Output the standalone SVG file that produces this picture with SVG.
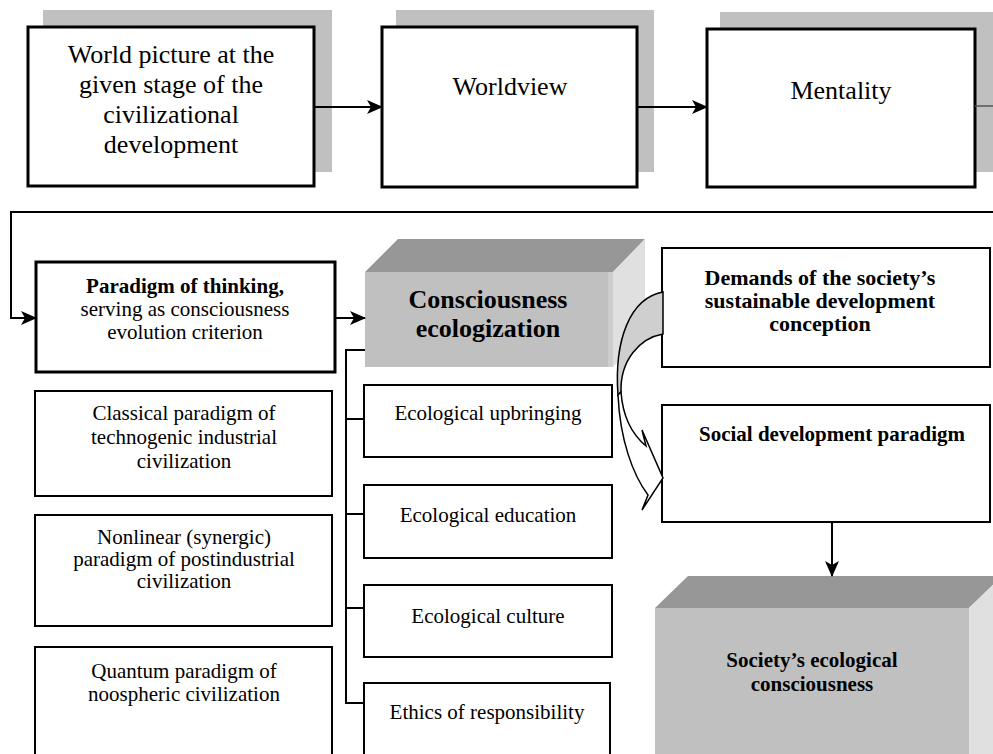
<svg xmlns="http://www.w3.org/2000/svg" width="993" height="754" viewBox="0 0 993 754">
<defs>
<style>
text{font-family:"Liberation Serif","Times New Roman",serif;fill:#000;text-anchor:middle}
.t26{font-size:26px}
.t21{font-size:21px}
.b21{font-size:21px;font-weight:bold}
.b22{font-size:22px;font-weight:bold}
.b26{font-size:26px;font-weight:bold}
.thick{fill:#fff;stroke:#000;stroke-width:3}
.thin{fill:#fff;stroke:#000;stroke-width:2}
.shadow{fill:#c0c0c0}
.conn{fill:none;stroke:#000;stroke-width:2}
.front{fill:#c0c0c0}
.top{fill:#979797}
.side{fill:#e0e0e0}
</style>
<marker id="ah" viewBox="0 0 16 14" refX="15" refY="7" markerWidth="16" markerHeight="14" markerUnits="userSpaceOnUse" orient="auto">
<path d="M0,0 L16,7 L0,14 L4,7 Z" fill="#000"/>
</marker>
</defs>
<rect width="993" height="754" fill="#fff"/>

<g id="world-picture">
<rect class="shadow" x="43" y="10" width="289" height="162"/>
<rect class="thick" x="28" y="27" width="286" height="159"/>
<text class="t26" x="171" y="63">World picture at the</text>
<text class="t26" x="171" y="93">given stage of the</text>
<text class="t26" x="171" y="123">civilizational</text>
<text class="t26" x="171" y="153">development</text>
</g>

<g id="worldview">
<rect class="shadow" x="396" y="10" width="258" height="162"/>
<rect class="thick" x="382" y="27" width="255" height="160"/>
<text class="t26" x="510" y="95">Worldview</text>
</g>

<g id="mentality">
<rect class="shadow" x="720" y="12" width="280" height="160"/>
<rect class="thick" x="707" y="29" width="268" height="158"/>
<text class="t26" x="841" y="99">Mentality</text>
</g>

<g id="paradigm-thinking">
<rect class="thick" x="36" y="262" width="299" height="110"/>
<text class="b21" x="185" y="293">Paradigm of thinking,</text>
<text class="t21" x="185" y="316">serving as consciousness</text>
<text class="t21" x="185" y="339">evolution criterion</text>
</g>

<g id="consciousness-ecologization">
<polygon class="top" points="365,272 398,239 645,239 613,272"/>
<polygon class="side" points="613,272 645,239 645,335 613,367"/>
<rect class="front" x="365" y="272" width="248" height="95"/>
<rect x="608" y="272" width="5" height="95" fill="#cdcdcd"/>
<text class="b26" x="488" y="308">Consciousness</text>
<text class="b26" x="488" y="337">ecologization</text>
</g>

<g id="classical">
<rect class="thin" x="35" y="391" width="297" height="105"/>
<text class="t21" x="184" y="420">Classical paradigm of</text>
<text class="t21" x="184" y="444">technogenic industrial</text>
<text class="t21" x="184" y="468">civilization</text>
</g>

<g id="nonlinear">
<rect class="thin" x="35" y="515" width="297" height="111"/>
<text class="t21" x="184" y="544">Nonlinear (synergic)</text>
<text class="t21" x="184" y="566">paradigm of postindustrial</text>
<text class="t21" x="184" y="588">civilization</text>
</g>

<g id="quantum">
<rect class="thin" x="35" y="647" width="297" height="120"/>
<text class="t21" x="184" y="678">Quantum paradigm of</text>
<text class="t21" x="184" y="701">noospheric civilization</text>
</g>

<g id="ecological-upbringing">
<rect class="thin" x="364" y="385" width="248" height="72"/>
<text class="t21" x="488" y="420">Ecological upbringing</text>
</g>
<g id="ecological-education">
<rect class="thin" x="364" y="485" width="248" height="73"/>
<text class="t21" x="488" y="522">Ecological education</text>
</g>
<g id="ecological-culture">
<rect class="thin" x="364" y="585" width="248" height="72"/>
<text class="t21" x="488" y="623">Ecological culture</text>
</g>
<g id="ethics-responsibility">
<rect class="thin" x="364" y="683" width="246" height="90"/>
<text class="t21" x="487" y="719">Ethics of responsibility</text>
</g>

<g id="demands">
<rect class="thin" x="662" y="248" width="328" height="119"/>
<text class="b22" x="820" y="285">Demands of the society’s</text>
<text class="b22" x="820" y="308">sustainable development</text>
<text class="b22" x="820" y="331">conception</text>
</g>

<g id="social-paradigm">
<rect class="thin" x="662" y="405" width="328" height="117"/>
<text class="b21" x="832" y="441">Social development paradigm</text>
</g>

<g id="society-consciousness">
<polygon class="top" points="655,608 688,576 1002,576 969,608"/>
<polygon class="side" points="969,608 1002,576 1002,760 969,760"/>
<rect class="front" x="655" y="608" width="314" height="152"/>
<text class="b21" x="812" y="667">Society’s ecological</text>
<text class="b21" x="812" y="691">consciousness</text>
</g>

<g id="connectors">
<line class="conn" x1="314" y1="107" x2="382" y2="107" marker-end="url(#ah)"/>
<line class="conn" x1="637" y1="107" x2="707" y2="107" marker-end="url(#ah)"/>
<line x1="975" y1="106" x2="993" y2="106" stroke="#555" stroke-width="1.5"/>
<polyline class="conn" points="995,212 11,212 11,318 36,318" marker-end="url(#ah)"/>
<line class="conn" x1="335" y1="318" x2="365" y2="318" marker-end="url(#ah)"/>
<polyline class="conn" points="365,350 346,350 346,703 364,703"/>
<line class="conn" x1="346" y1="419" x2="364" y2="419"/>
<line class="conn" x1="346" y1="514" x2="364" y2="514"/>
<line class="conn" x1="346" y1="608" x2="364" y2="608"/>
<line class="conn" x1="832" y1="522" x2="832" y2="576" marker-end="url(#ah)"/>
<path d="M663,292 C630,298 614,340 618,395 L621,392 C620,360 640,338 663,334 Z" fill="#cfcfcf" stroke="#000" stroke-width="1.5"/>
<path d="M618,395 C620,440 633,475 648,495 L642,510 L663,478 L642,430 L646,446 C634,436 623,420 621,392 Z" fill="#fff" stroke="#000" stroke-width="1.5" stroke-linejoin="miter"/>
</g>
</svg>
